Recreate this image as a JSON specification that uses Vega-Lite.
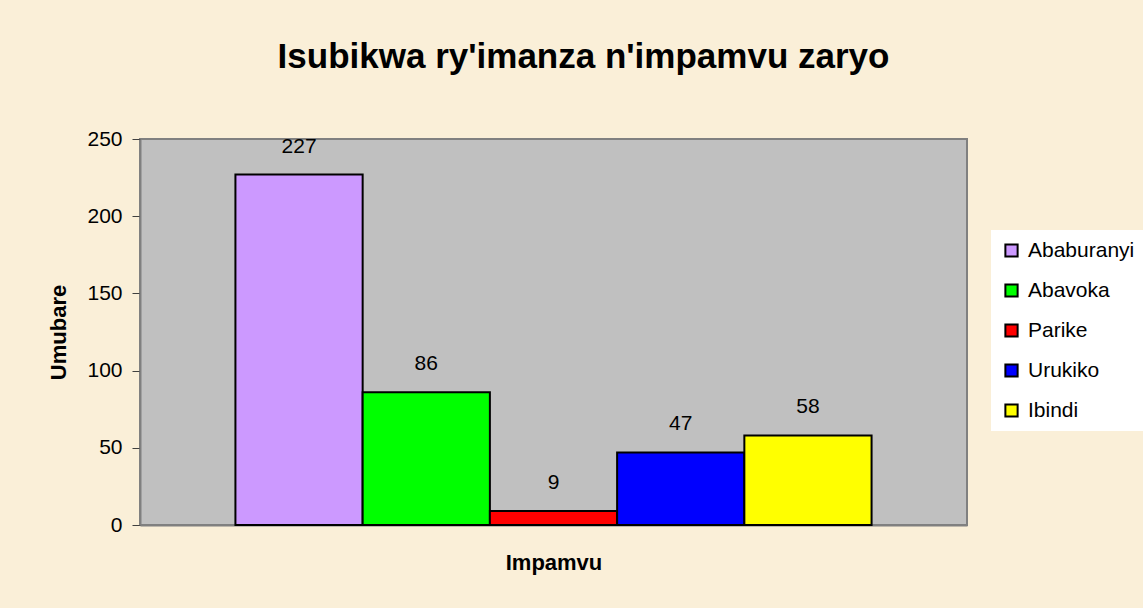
{
  "$schema": "https://vega.github.io/schema/vega-lite/v6.json",
  "width": 827,
  "height": 386,
  "autosize": {"type": "none"},
  "padding": {"left": 140, "top": 139, "right": 176, "bottom": 83},
  "background": "#FAEFD8",
  "title": {
    "text": "Isubikwa ry'imanza n'impamvu zaryo",
    "font": "Liberation Sans",
    "fontSize": 35,
    "fontWeight": "bold",
    "color": "#000000",
    "anchor": "middle",
    "dx": 30,
    "offset": 53
  },
  "config": {
    "font": "Liberation Sans",
    "view": {"fill": "#C0C0C0", "stroke": "#808080", "strokeWidth": 2}
  },
  "data": {
    "values": [
      {"impamvu": "Ababuranyi", "umubare": 227},
      {"impamvu": "Abavoka", "umubare": 86},
      {"impamvu": "Parike", "umubare": 9},
      {"impamvu": "Urukiko", "umubare": 47},
      {"impamvu": "Ibindi", "umubare": 58}
    ]
  },
  "encoding": {
    "x": {
      "field": "impamvu",
      "type": "nominal",
      "sort": null,
      "scale": {"paddingInner": 0, "paddingOuter": 0.75},
      "axis": {
        "labels": false,
        "ticks": false,
        "domainColor": "#808080",
        "domainWidth": 2,
        "title": "Impamvu",
        "titleFont": "Liberation Sans",
        "titleFontSize": 22,
        "titleFontWeight": "bold",
        "titleColor": "#000000",
        "titlePadding": 27
      }
    },
    "y": {
      "field": "umubare",
      "type": "quantitative",
      "scale": {"domain": [0, 250], "nice": false},
      "axis": {
        "values": [0, 50, 100, 150, 200, 250],
        "grid": false,
        "domainColor": "#808080",
        "domainWidth": 2,
        "tickColor": "#404040",
        "tickSize": 8,
        "labelFontSize": 21,
        "labelColor": "#000000",
        "labelPadding": 10,
        "title": "Umubare",
        "titleFontSize": 22,
        "titleFontWeight": "bold",
        "titleColor": "#000000",
        "titlePadding": 16
      }
    }
  },
  "layer": [
    {
      "mark": {"type": "bar", "stroke": "#000000", "strokeWidth": 2},
      "encoding": {
        "color": {
          "field": "impamvu",
          "type": "nominal",
          "sort": null,
          "scale": {
            "domain": ["Ababuranyi", "Abavoka", "Parike", "Urukiko", "Ibindi"],
            "range": ["#CC99FF", "#00FF00", "#FF0000", "#0000FF", "#FFFF00"]
          },
          "legend": {
            "title": null,
            "orient": "none",
            "legendX": 851,
            "legendY": 91,
            "fillColor": "#FFFFFF",
            "padding": 10,
            "symbolType": "square",
            "symbolSize": 150,
            "symbolStrokeColor": "#000000",
            "symbolStrokeWidth": 2,
            "labelFontSize": 21,
            "labelColor": "#000000",
            "labelOffset": 6,
            "rowPadding": 18
          }
        }
      }
    },
    {
      "mark": {"type": "text", "fontSize": 21, "color": "#000000", "baseline": "middle", "dy": -28},
      "encoding": {
        "text": {"field": "umubare", "type": "quantitative"}
      }
    }
  ]
}
